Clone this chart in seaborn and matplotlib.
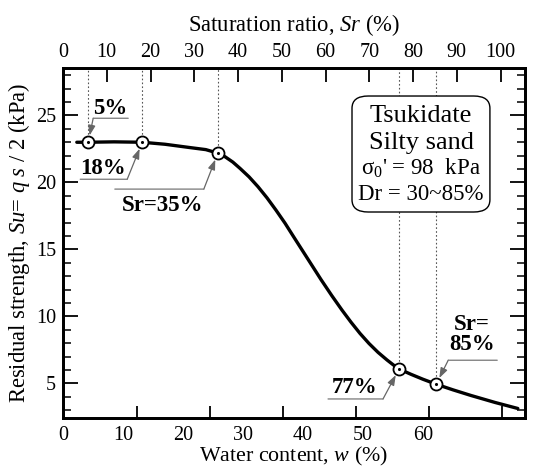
import numpy as np
import pandas as pd
import matplotlib
matplotlib.use("Agg")
import matplotlib.pyplot as plt
import seaborn as sns
from matplotlib.patches import FancyBboxPatch
from matplotlib.transforms import offset_copy
from matplotlib.ticker import FixedLocator, MultipleLocator

# ---- data ----
w_curve = [2.3, 4.2, 8.5, 13.2, 17.0, 21.2, 23.8, 25.8, 27.0, 28.3, 29.5, 31.0,
           32.5, 34.0, 35.5, 37.0, 38.5, 40.0, 41.5, 43.0, 44.8, 46.5, 48.0,
           49.5, 51.0, 52.5, 54.0, 55.0, 56.0, 58.0, 60.0, 62.2, 65.0, 68.0,
           72.0, 75.8]
su_curve = [23.0, 23.0, 23.03, 23.0, 22.85, 22.6, 22.45, 22.19, 21.92, 21.52,
            21.05, 20.42, 19.68, 18.85, 17.93, 16.96, 15.90, 14.85, 13.80, 12.75,
            11.55, 10.47, 9.57, 8.73, 7.98, 7.32, 6.75, 6.40, 6.08, 5.68, 5.31,
            4.94, 4.52, 4.10, 3.58, 3.13]

w_points = [4.2, 13.2, 25.8, 56.0, 62.2]
su_points = [23.0, 23.0, 22.19, 6.08, 4.94]
point_labels = ["5%", "18%", "Sr=35%", "77%", "Sr=\n85%"]

w_ticklabels = [0, 10, 20, 30, 40, 50, 60]
sr_ticklabels = [0, 10, 20, 30, 40, 50, 60, 70, 80, 90, 100]
su_ticklabels = [5, 10, 15, 20, 25]

box_lines = ["Tsukidate", "Silty sand", "σ$_{0}$' = 98  kPa", "Dr = 30~85%"]

curve_df = pd.DataFrame({"w": w_curve, "su": su_curve})
pts_df = pd.DataFrame({"w": w_points, "su": su_points})

# ---- style ----
sns.set_theme(style="ticks")
plt.rcParams["font.family"] = ["Liberation Serif", "DejaVu Serif"]
plt.rcParams["mathtext.fontset"] = "custom"
plt.rcParams["mathtext.rm"] = "Liberation Serif"
plt.rcParams["mathtext.it"] = "Liberation Serif:italic"
plt.rcParams["mathtext.bf"] = "Liberation Serif:bold"
for key in ["text.color", "axes.labelcolor", "xtick.color", "ytick.color",
            "xtick.labelcolor", "ytick.labelcolor", "axes.edgecolor"]:
    plt.rcParams[key] = "black"

fig = plt.figure(figsize=(5.46, 4.75), dpi=100)
ax = fig.add_axes([0.1154, 0.12, 0.8462, 0.7368])

XMAX_W = 77.0
YLIM = (2.42, 28.54)
TICK_FS = 14.5
LABEL_FS = 16.3

sns.lineplot(data=curve_df, x="w", y="su", ax=ax, color="black", lw=2.4,
             sort=False, zorder=3, solid_joinstyle="round", solid_capstyle="round")
sns.scatterplot(data=pts_df, x="w", y="su", ax=ax, s=75, marker="o",
                facecolor="white", edgecolor="black", linewidth=1.3, zorder=5)
sns.scatterplot(data=pts_df, x="w", y="su", ax=ax, s=5, marker="o",
                color="black", linewidth=0, zorder=6)

ax.set_xlim(0, XMAX_W)
ax.set_ylim(*YLIM)

# dotted verticals from each point up to the top edge
ax.vlines(w_points, su_points, YLIM[1], colors="#555555", linestyles=(0, (1.5, 2)),
          lw=0.8, zorder=2)

for s in ax.spines.values():
    s.set_linewidth(2.0)
    s.set_color("black")

# bottom axis: labels without ticks, tick marks at the drawn positions
ax.xaxis.set_major_locator(FixedLocator(w_ticklabels))
ax.xaxis.set_minor_locator(FixedLocator(np.arange(12.33, XMAX_W, 12.17)))
ax.tick_params(axis="x", which="major", length=0, pad=6, labelsize=TICK_FS,
               top=False, bottom=True)
ax.tick_params(axis="x", which="minor", length=9, width=1.3, direction="in",
               top=False, bottom=True)

# y axis
ax.yaxis.set_major_locator(FixedLocator(su_ticklabels))
ax.yaxis.set_minor_locator(MultipleLocator(1))
ax.tick_params(axis="y", which="major", length=11, width=1.3, direction="in",
               left=True, right=True, labelsize=TICK_FS, pad=5)
ax.tick_params(axis="y", which="minor", length=6, width=1.1, direction="in",
               left=True, right=True)

ax.set_xlabel(r"Water content, $\mathit{w}$ (%)", fontsize=15.8, labelpad=0)
ax.set_ylabel(r"Residual strength, $\mathit{Su}$= $\mathit{q\ s}$ / 2 (kPa)",
              fontsize=LABEL_FS, labelpad=3)

# top axis: saturation ratio
ax2 = ax.twiny()
ax2.set_xlim(0, 105.6)
ax2.xaxis.set_major_locator(FixedLocator(sr_ticklabels))
ax2.xaxis.set_minor_locator(FixedLocator([]))
ax2.tick_params(axis="x", which="major", length=10, width=1.3, direction="in",
                labelsize=TICK_FS, pad=4, top=True, bottom=False)
ax2.set_xlabel(r"Saturation ratio, $\mathit{Sr}$ (%)", fontsize=LABEL_FS, labelpad=9)
for s in ax2.spines.values():
    s.set_linewidth(2.0)

# ---- annotations (offsets in pixels from each point) ----
ann_text = [(22, 34), (-39, -26), (-55, -52), (-44, -19), (36, 50)]
ann_start = [(5, 24), (-15, -37), (-14, -36), (-16, -30), (12, 24)]
ann_line = [(5, 40, 24), (-62, -15, -37), (-103, -14, -36), (-71, -16, -30), (12, 61, 24)]

for (w, su, lab, tx, st, ln) in zip(w_points, su_points, point_labels,
                                     ann_text, ann_start, ann_line):
    ax.annotate(lab, xy=(w, su), xytext=tx, textcoords="offset pixels",
                ha="center", va="center", fontsize=16.5, fontweight="bold",
                linespacing=0.95, zorder=7, color="black")
    ax.annotate("", xy=(w, su), xytext=st, textcoords="offset pixels",
                arrowprops=dict(arrowstyle="-|>,head_length=0.5,head_width=0.18",
                                color="#666666", lw=0.9, shrinkA=0, shrinkB=5),
                zorder=7)
    t1 = offset_copy(ax.transData, fig=fig, x=ln[0], y=ln[2], units="dots")
    t2 = offset_copy(ax.transData, fig=fig, x=ln[1], y=ln[2], units="dots")
    ax.annotate("", xy=(w, su), xycoords=t1, xytext=(w, su), textcoords=t2,
                arrowprops=dict(arrowstyle="-", color="#777777", lw=0.9,
                                shrinkA=0, shrinkB=0), zorder=7)

# ---- info box ----
box = FancyBboxPatch((0.6255, 0.5886), 0.2985, 0.3314,
                     boxstyle="round,pad=0,rounding_size=0.035",
                     transform=ax.transAxes, facecolor="white",
                     edgecolor="black", lw=1.0, zorder=8)
ax.add_patch(box)
box_y = [0.862, 0.787, 0.712, 0.638]
box_fs = [19, 19, 16.5, 16.5]
for txt, yy, fs in zip(box_lines, box_y, box_fs):
    ax.text(0.775, yy, txt, transform=ax.transAxes, ha="center", va="center",
            fontsize=fs, zorder=9, color="black")

fig.savefig("out.png", dpi=100)
